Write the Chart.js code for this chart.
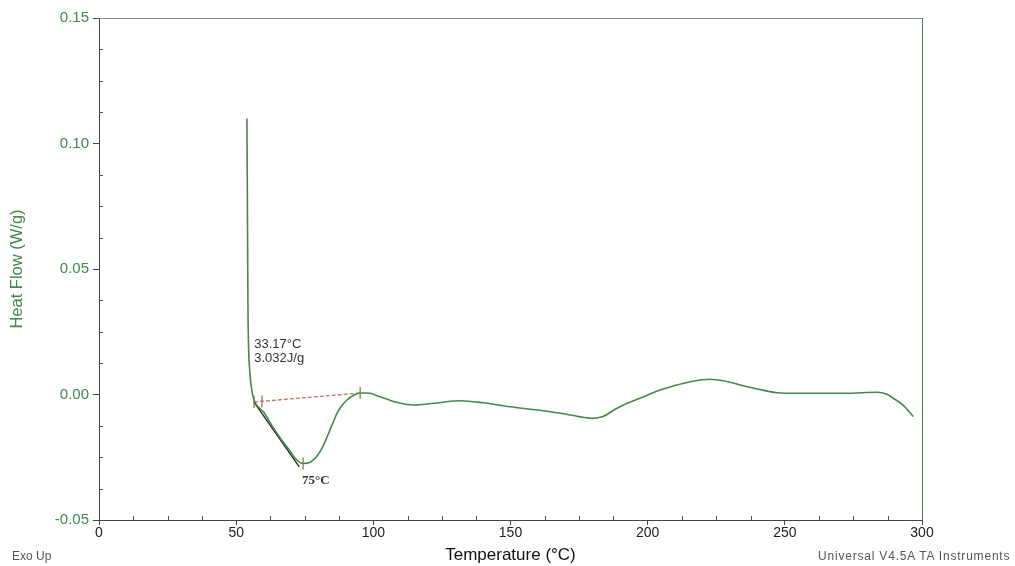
<!DOCTYPE html>
<html>
<head>
<meta charset="utf-8">
<script src="https://cdn.jsdelivr.net/npm/chart.js@4"></script>
<style>
  html, body { margin: 0; padding: 0; background: #fff; }
  #wrap { position: relative; width: 1015px; height: 566px; }
  .note { position: absolute; font-family: Arial, "Liberation Sans", sans-serif; font-size: 12px; color: #555; }
</style>
</head>
<body>
<div id="wrap">
  <canvas id="dsc" width="1015" height="566"></canvas>
  <div class="note" style="left:12px; top:549px;">Exo Up</div>
  <div class="note" style="left:818px; top:549px; letter-spacing:0.8px;">Universal V4.5A TA Instruments</div>
</div>
<script>
// DSC curve (Temperature in °C, Heat Flow in W/g)
const temps = [53.9, 54.0, 54.1, 54.2, 54.3, 54.5, 54.9, 55.4, 56.0, 56.8, 60.0, 63.4, 66.5, 69.6, 72.0, 74.4,
  77.0, 79.5, 81.5, 83.1, 85.0, 86.8, 88.5, 90.4, 93.0, 95.2, 98.0, 102.4, 108.0, 114.5, 122.0, 131.6,
  140.0, 149.8, 160.0, 168.1, 175.0, 180.1, 183.7, 188.0, 192.5, 197.2, 204.5, 209.3, 216.0, 222.7,
  228.0, 233.7, 240.0, 247.2, 255.0, 263.9, 272.7, 278.0, 283.6, 287.0, 289.5, 293.1, 296.8];
const heatFlow = [0.110, 0.095, 0.075, 0.055, 0.035, 0.020, 0.010, 0.004, 0.000, -0.003, -0.007, -0.013, -0.018, -0.0225, -0.026, -0.0275,
  -0.027, -0.0245, -0.021, -0.017, -0.012, -0.0074, -0.0045, -0.0022, -0.0002, 0.0006, 0.0006, -0.0009, -0.003, -0.0042, -0.0035, -0.0025,
  -0.0033, -0.0049, -0.0062, -0.0075, -0.0088, -0.0095, -0.0088, -0.006, -0.0035, -0.0015, 0.0018, 0.0034, 0.0052, 0.0061,
  0.0054, 0.0038, 0.0022, 0.0007, 0.0005, 0.0005, 0.0005, 0.0007, 0.0009, 0.0002, -0.0015, -0.0042, -0.0088];

// peak integration: baseline, onset tangent and markers
const baseX = [56.5, 95.2];
const baseY = [-0.003, 0.0006];
const tangentX = [56.5, 73.0];
const tangentY = [-0.003, -0.0288];
const markX = [56.5, 59.4, 95.2, 74.4];
const markY = [-0.003, -0.0028, 0.0006, -0.0275];

const xTicks = [0, 50, 100, 150, 200, 250, 300];
const yTicks = [-0.05, 0, 0.05, 0.10, 0.15];

const notes = [
  { x: 56.6, y: 0.0198, text: "33.17°C", bold: false },
  { x: 56.6, y: 0.0145, text: "3.032J/g", bold: false },
  { x: 74.0, y: -0.0345, text: "75°C", bold: true }
];

const green = "#43894a";
const toPts = (xs, ys) => xs.map((x, i) => ({ x: x, y: ys[i] }));

// frame, minor ticks and annotation text
const decor = {
  id: "decor",
  afterDraw(chart) {
    const { ctx, chartArea: a, scales: { x, y } } = chart;
    ctx.save();
    ctx.lineWidth = 1;
    ctx.strokeStyle = "#888";
    ctx.beginPath(); ctx.moveTo(a.left, a.top + 0.5); ctx.lineTo(a.right, a.top + 0.5); ctx.stroke();
    ctx.strokeStyle = green;
    ctx.beginPath(); ctx.moveTo(a.right + 0.5, a.top); ctx.lineTo(a.right + 0.5, a.bottom); ctx.stroke();
    ctx.strokeStyle = "#555";
    for (let v = 0; v <= 300; v += 12.5) {
      if (v % 50 === 0) continue;
      const px = Math.round(x.getPixelForValue(v)) + 0.5;
      ctx.beginPath(); ctx.moveTo(px, a.bottom); ctx.lineTo(px, a.bottom - 4); ctx.stroke();
    }
    for (let i = 0; i <= 16; i++) {
      if (i % 4 === 0) continue;
      const py = Math.round(y.getPixelForValue(-0.05 + i * 0.0125)) + 0.5;
      ctx.beginPath(); ctx.moveTo(a.left, py); ctx.lineTo(a.left + 4, py); ctx.stroke();
    }
    ctx.fillStyle = "#333";
    ctx.textBaseline = "middle";
    notes.forEach(n => {
      ctx.font = (n.bold ? "bold 13px 'Liberation Serif', serif" : "13px Arial, 'Liberation Sans', sans-serif");
      ctx.fillText(n.text, x.getPixelForValue(n.x), y.getPixelForValue(n.y));
    });
    ctx.restore();
  }
};

new Chart(document.getElementById("dsc"), {
  type: "line",
  data: {
    datasets: [
      {
        data: toPts(temps, heatFlow),
        borderColor: green,
        borderWidth: 1.6,
        pointRadius: 0,
        cubicInterpolationMode: "monotone"
      },
      {
        data: toPts(baseX, baseY),
        borderColor: "#d46a6a",
        borderWidth: 1.3,
        borderDash: [4, 2],
        pointRadius: 0
      },
      {
        data: toPts(tangentX, tangentY),
        borderColor: "#222",
        borderWidth: 1.3,
        pointRadius: 0
      },
      {
        data: toPts(markX, markY),
        showLine: false,
        pointStyle: "line",
        rotation: 90,
        pointRadius: 6,
        borderWidth: 1.2,
        borderColor: "#9a6a3a"
      }
    ]
  },
  options: {
    responsive: false,
    animation: false,
    layout: { padding: { left: 8, right: 93, top: 18, bottom: 0 } },
    plugins: { legend: { display: false }, tooltip: { enabled: false } },
    scales: {
      x: {
        type: "linear",
        min: 0, max: 300,
        afterBuildTicks: s => { s.ticks = xTicks.map(v => ({ value: v })); },
        afterFit: s => { s.height = 46; },
        ticks: { color: "#222", font: { size: 14, family: "Arial" }, padding: 0, maxRotation: 0 },
        grid: { drawOnChartArea: false, tickLength: 5, color: "#444" },
        border: { color: "#444" },
        title: { display: true, text: "Temperature (°C)", color: "#111", font: { size: 17, family: "Arial" }, padding: { top: 4, bottom: 0 } }
      },
      y: {
        min: -0.05, max: 0.15,
        afterBuildTicks: s => { s.ticks = yTicks.map(v => ({ value: v })); },
        afterFit: s => { s.width = 91; },
        ticks: { color: green, font: { size: 15, family: "Arial" }, padding: 4, callback: v => v.toFixed(2) },
        grid: { drawOnChartArea: false, tickLength: 6, color: "#444" },
        border: { color: "#444" },
        title: { display: true, text: "Heat Flow (W/g)", color: green, font: { size: 16.5, family: "Arial" }, padding: { top: 0, bottom: 8 } }
      }
    }
  },
  plugins: [decor]
});
</script>
</body>
</html>
